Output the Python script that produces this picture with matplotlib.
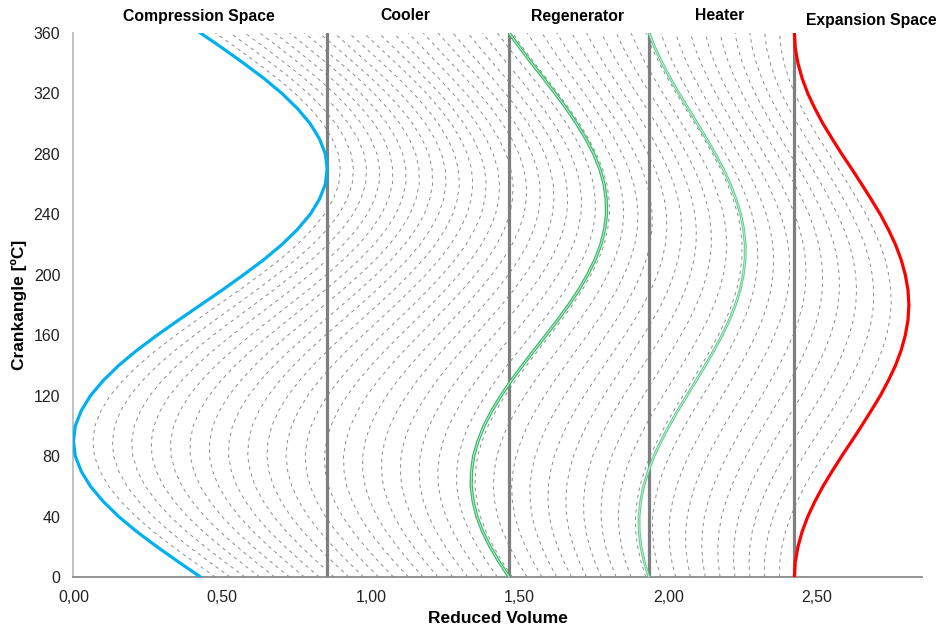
import numpy as np
import matplotlib
matplotlib.use('Agg')
import matplotlib.pyplot as plt
from matplotlib.ticker import FuncFormatter

plt.rcParams['font.family'] = ['Liberation Sans', 'DejaVu Sans']

# Crank angle samples [deg]
crank_angle = [0, 10, 20, 30, 40, 50, 60, 70, 80, 90, 100, 110, 120, 130, 140, 150, 160, 170, 180,
               190, 200, 210, 220, 230, 240, 250, 260, 270, 280, 290, 300, 310, 320, 330, 340, 350, 360]

# Reduced volume of the compression space (left boundary of the gas)
compression_volume = [0.427, 0.353, 0.281, 0.213, 0.152, 0.100, 0.057, 0.026, 0.006, 0.000,
                      0.006, 0.026, 0.057, 0.100, 0.152, 0.213, 0.281, 0.353, 0.427,
                      0.501, 0.572, 0.640, 0.701, 0.753, 0.796, 0.827, 0.847, 0.853,
                      0.847, 0.827, 0.796, 0.753, 0.701, 0.640, 0.572, 0.501, 0.427]

# Reduced volume of the expansion space (added on top of the dead volumes)
expansion_volume = [0.000, 0.003, 0.012, 0.026, 0.045, 0.069, 0.096, 0.127, 0.159, 0.193,
                    0.226, 0.258, 0.289, 0.316, 0.340, 0.359, 0.373, 0.382, 0.385,
                    0.382, 0.373, 0.359, 0.340, 0.316, 0.289, 0.258, 0.226, 0.193,
                    0.159, 0.127, 0.096, 0.069, 0.045, 0.026, 0.012, 0.003, 0.000]

# Boundaries between cooler / regenerator / heater / expansion space
region_edges = [0.853, 1.465, 1.935, 2.424]
region_names = ['Compression Space', 'Cooler', 'Regenerator', 'Heater', 'Expansion Space']

# Number of mass slices drawn as dashed particle paths
n_slices = 40

theta = np.array(crank_angle)
x_comp = np.array(compression_volume)
x_exp = region_edges[-1] + np.array(expansion_volume)


def particle_path(frac):
    # particle that keeps a fixed share of the gas between both piston faces
    return x_comp + frac * (x_exp - x_comp)


fig = plt.figure(figsize=(9.36, 6.32), dpi=100)
ax = fig.add_axes([0.0785, 0.087, 0.9065, 0.8608])

# dashed particle paths
for k in range(1, n_slices):
    ax.plot(particle_path(k / n_slices), theta, color='#8c8c8c', lw=0.7,
            dashes=(3.5, 4), zorder=1)

# region boundaries
for xe in region_edges:
    ax.axvline(xe, color='#7f7f7f', lw=2.3, zorder=2)

# particles starting at the regenerator and heater inlets
for xe, col, lw in [(region_edges[1], '#3dbb6c', 2.4), (region_edges[2], '#5ccc8a', 2.0)]:
    frac = (xe - x_comp[0]) / (x_exp[0] - x_comp[0])
    path = particle_path(frac)
    ax.plot(path, theta, color=col, lw=lw, zorder=3, solid_capstyle='butt')
    ax.plot(path, theta, color='#c8f0d8', lw=0.6, zorder=4)

# piston faces
ax.plot(x_comp, theta, color='#00b0f0', lw=2.3, zorder=5)
ax.plot(x_exp, theta, color='#ff0000', lw=2.3, zorder=5)

ax.set_xlim(0, 2.853)
ax.set_ylim(0, 360)
ax.set_xticks([0, 0.5, 1.0, 1.5, 2.0, 2.5])
ax.set_yticks(range(0, 361, 40))
ax.xaxis.set_major_formatter(FuncFormatter(lambda v, p: f'{v:.2f}'.replace('.', ',')))
ax.tick_params(length=0, labelsize=11.5, colors='#222222', pad=9.5)

for side in ['top', 'right']:
    ax.spines[side].set_visible(False)
ax.spines['left'].set_color('#bcbcbc')
ax.spines['left'].set_linewidth(1.3)
ax.spines['bottom'].set_color('#8a8a8a')
ax.spines['bottom'].set_linewidth(1.3)

ax.set_xlabel('Reduced Volume', fontsize=12.5, fontweight='bold', labelpad=4)
ax.set_ylabel('Crankangle [ºC]', fontsize=12.5, fontweight='bold', labelpad=5)

# region names above the plot
label_pos = [(199, 17, 'center'), (405, 16, 'center'), (577, 17, 'center'),
             (720, 16, 'center'), (806, 20, 'left')]
for name, (px, py, ha) in zip(region_names, label_pos):
    fig.text(px / 936, 1 - py / 632, name, ha=ha, va='center',
             fontsize=11.3, fontweight='bold')

plt.savefig('out.png', dpi=100)
plt.close()
